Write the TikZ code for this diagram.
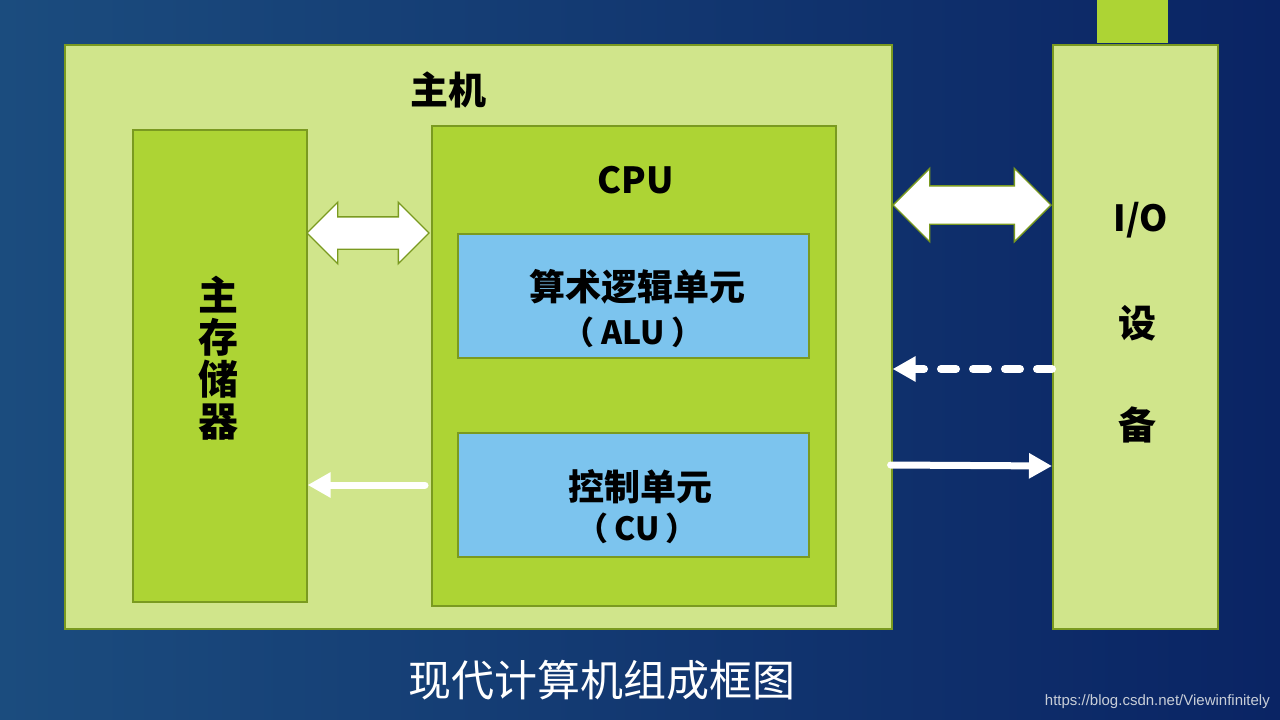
\documentclass[tikz,border=0pt]{standalone}
\usepackage{fontspec}
\setmainfont{Noto Sans CJK SC}
\newfontfamily\urlfont{Liberation Sans}
\usetikzlibrary{shapes.arrows,arrows.meta,calc}
\definecolor{hostGreen}{RGB}{208,229,139}
\definecolor{cpuGreen}{RGB}{173,212,52}
\definecolor{edgeGreen}{RGB}{122,154,32}
\definecolor{aluBlue}{RGB}{124,196,238}
\definecolor{bgLeft}{RGB}{27,76,126}
\definecolor{bgMid}{RGB}{31,88,138}
\definecolor{bgDark}{RGB}{10,36,100}
\definecolor{urlGray}{RGB}{200,206,216}

\tikzset{
  box/.style={draw=edgeGreen, line width=1.6pt, inner sep=0pt, anchor=north west},
  bigtxt/.style={font=\bfseries\fontsize{36}{40}\selectfont, text=black, inner sep=0pt},
  bus/.style={double arrow, draw=edgeGreen, fill=white, line width=1.4pt, inner xsep=0pt,
    double arrow tip angle=90},
  wire/.style={white, line width=7pt, line cap=round,
    -{Triangle[length=23pt,width=24pt]}}
}

\begin{document}
\begin{tikzpicture}[x=1pt,y=-1pt]
  \useasboundingbox (0,0) rectangle (1280,720);
  % background
  \shade[left color=bgLeft, middle color=bgMid, right color=bgDark] (0,0) rectangle (1280,720);

  % host and memory
  \node[box, fill=hostGreen, minimum width=827, minimum height=584] (host) at (64,44) {};
  \node[bigtxt, font=\bfseries\fontsize{38}{40}\selectfont] (hostlbl) at (448,90) {主机};
  \node[box, fill=cpuGreen, minimum width=174, minimum height=472] (mem) at (132,129) {};
  \node[bigtxt, align=center, font=\bfseries\fontsize{40}{42}\selectfont] (memlbl) at (218,358) {主\\存\\储\\器};

  % cpu with alu and cu
  \node[box, fill=cpuGreen, minimum width=404, minimum height=480] (cpu) at (431,125) {};
  \node[bigtxt] (cpulbl) at (636,180) {CPU};
  \node[box, fill=aluBlue, minimum width=351, minimum height=124] (alu) at (457,233) {};
  \node[bigtxt] (alulbl) at (637,287) {算术逻辑单元};
  \node[bigtxt, font=\bfseries\fontsize{32}{36}\selectfont] (alusub) at (633,332) {（\hspace{7pt}ALU\hspace{7pt}）};
  \node[box, fill=aluBlue, minimum width=351, minimum height=124] (cu) at (457,432) {};
  \node[bigtxt] (culbl) at (640,487) {控制单元};
  \node[bigtxt, font=\bfseries\fontsize{32}{36}\selectfont] (cusub) at (637,528) {（\hspace{6pt}CU\hspace{6pt}）};

  % i/o device
  \fill[cpuGreen] (1097,0) rectangle (1168,43);
  \node[box, fill=hostGreen, minimum width=165, minimum height=584] (io) at (1052,44) {};
  \node[bigtxt] (iolbl) at (1141,220) {I/O};
  \node[bigtxt, font=\bfseries\fontsize{38}{40}\selectfont] (iolbl2) at (1137,323) {设};
  \node[bigtxt, font=\bfseries\fontsize{38}{40}\selectfont] (iolbl3) at (1137,425) {备};

  % buses
  \node[bus, inner ysep=15.5pt, minimum height=122, double arrow head extend=14.5] (membus) at (368,233) {};
  \node[bus, inner ysep=18.5pt, minimum height=158, double arrow head extend=17.5] (iobus) at (972,205) {};

  % signals
  \draw[wire, dash pattern=on 15pt off 17pt, line width=8pt] (io.west |- 0,369) -- (host.east |- 0,369);
  \draw[wire] ([xshift=-2pt]host.east |- 0,465) -- (io.west |- 0,466);
  \draw[wire] ([xshift=-6pt]cpu.west |- 0,485) -- (mem.east |- 0,485);

  % caption
  \node[text=white, font=\fontsize{43}{46}\selectfont, inner sep=0pt] (title) at (602,680) {现代计算机组成框图};
  \node[text=urlGray, font=\urlfont\fontsize{15}{17}\selectfont, inner sep=0pt, anchor=east] (url) at (1270,702) {https://blog.csdn.net/Viewinfinitely};
\end{tikzpicture}
\end{document}
